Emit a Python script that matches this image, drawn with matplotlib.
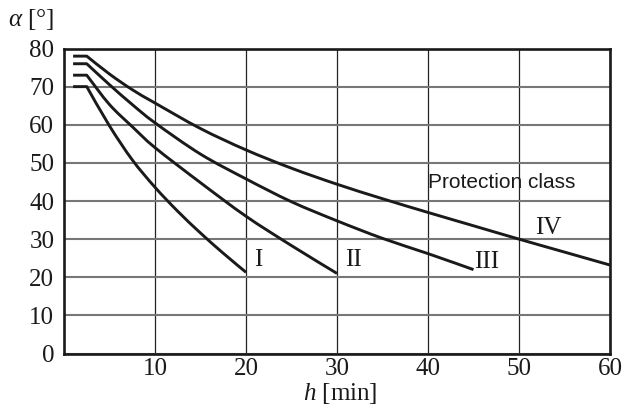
import matplotlib
matplotlib.use("Agg")
import matplotlib.pyplot as plt
from matplotlib.path import Path
from matplotlib.patches import PathPatch

plt.rcParams["mathtext.fontset"] = "custom"
plt.rcParams["mathtext.rm"] = "Liberation Serif"
plt.rcParams["mathtext.it"] = "Liberation Serif:italic"

# Permissible slope angle alpha versus exposure time h for each protection class
h_I = [1, 2.5, 5, 7.5, 10, 12.5, 15, 17.5, 20]
a_I = [70, 70, 59.7, 50.8, 43.6, 37.3, 31.6, 26.3, 21.3]

h_II = [1, 2.5, 5, 7.5, 10, 15, 20, 25, 30]
a_II = [73, 73, 65.3, 59.5, 54, 44.8, 36, 28.3, 21]

h_III = [1, 2.5, 5, 7.5, 10, 15, 20, 25, 30, 35, 40, 45]
a_III = [76, 76, 70.5, 65.3, 60.5, 52.3, 45.8, 39.8, 34.8, 30.2, 26.2, 22]

h_IV = [1, 2.5, 5, 7.5, 10, 15, 20, 25, 30, 35, 40, 45, 50, 55, 60]
a_IV = [78, 78, 73.3, 69.2, 65.7, 59, 53.4, 48.6, 44.4, 40.6, 37, 33.5, 30, 26.6, 23.2]

class_labels = ["I", "II", "III", "IV"]
label_pos = [(21.3, 24.5), (31.8, 24.5), (46.5, 24.0), (53.2, 33.0)]

x_ticks = [10, 20, 30, 40, 50, 60]
y_ticks = [0, 10, 20, 30, 40, 50, 60, 70, 80]

serif = "Liberation Serif"
ink = "#1a1a1a"


def curve_path(xs, ys):
    """Flat start segment, then a smooth Catmull-Rom run through the points."""
    pts = list(zip(xs, ys))
    verts = [pts[0], pts[1]]
    codes = [Path.MOVETO, Path.LINETO]
    run = pts[1:]
    n = len(run)
    for i in range(n - 1):
        p0 = run[i - 1] if i > 0 else run[i]
        p1 = run[i]
        p2 = run[i + 1]
        p3 = run[i + 2] if i + 2 < n else run[i + 1]
        c1 = (p1[0] + (p2[0] - p0[0]) / 6, p1[1] + (p2[1] - p0[1]) / 6)
        c2 = (p2[0] - (p3[0] - p1[0]) / 6, p2[1] - (p3[1] - p1[1]) / 6)
        verts += [c1, c2, p2]
        codes += [Path.CURVE4] * 3
    return Path(verts, codes)


fig = plt.figure(figsize=(6.22, 4.16), dpi=100)
ax = fig.add_axes([64 / 622, 1 - 353.5 / 416, 546 / 622, 305 / 416])

ax.set_xlim(0, 60)
ax.set_ylim(0, 80)

for xs, ys in [(h_I, a_I), (h_II, a_II), (h_III, a_III), (h_IV, a_IV)]:
    ax.add_patch(PathPatch(curve_path(xs, ys), facecolor="none", edgecolor=ink,
                           lw=2.1, joinstyle="round", capstyle="butt", zorder=3))

ax.set_xticks(x_ticks)
ax.set_yticks(y_ticks)
ax.xaxis.grid(True, color="#222222", lw=0.9)
ax.yaxis.grid(True, color="#777777", lw=1.5)
ax.set_axisbelow(True)
ax.tick_params(length=0, labelsize=18)
ax.tick_params(axis="y", pad=7)
ax.tick_params(axis="x", pad=3)
for lab in ax.get_xticklabels() + ax.get_yticklabels():
    lab.set_fontfamily(serif)
    lab.set_color(ink)

for sp in ax.spines.values():
    sp.set_linewidth(1.9)
    sp.set_color(ink)

for txt, (x, y) in zip(class_labels, label_pos):
    ax.text(x, y, txt, fontsize=18, fontfamily=serif, color=ink,
            ha="center", va="center")

ax.text(40, 44.9, "Protection class", fontsize=15, fontfamily="Liberation Sans",
        color=ink, ha="left", va="center")

fig.text(340 / 622, 1 - 393 / 416, r"$h$ [min]", fontsize=18, fontfamily=serif,
         color=ink, ha="center", va="center")
fig.text(8 / 622, 1 - 19 / 416, r"$\alpha$ [°]", fontsize=18, fontfamily=serif,
         color=ink, ha="left", va="center")

fig.savefig("out.png", dpi=100)
